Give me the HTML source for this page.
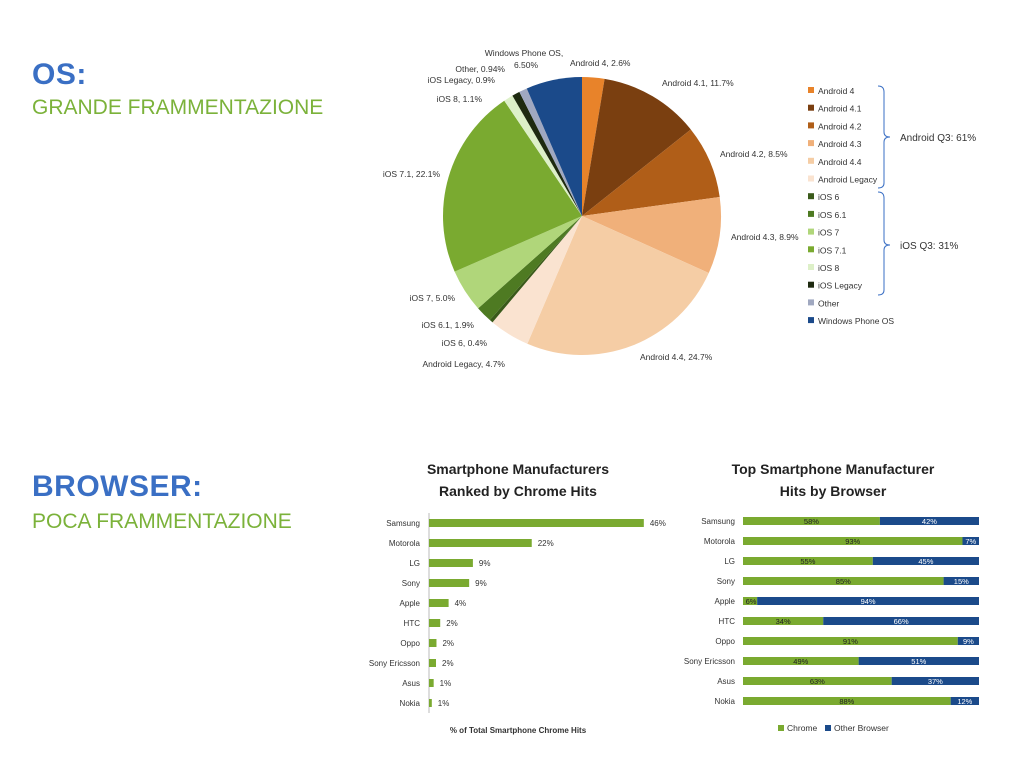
<!DOCTYPE html>
<html><head><meta charset="utf-8"><style>
body{margin:0;width:1024px;height:768px;background:#fff;overflow:hidden;position:relative;font-family:"Liberation Sans",sans-serif}
.h{position:absolute;left:32px;font-weight:bold;color:#3a6fc4;font-size:30px;letter-spacing:0.5px}
.s{position:absolute;left:32px;color:#7bb23a;font-size:21px}
svg{position:absolute;left:0;top:0}
svg text{font-family:"Liberation Sans",sans-serif}
</style></head><body>
<div class="h" style="top:58px">OS:</div>
<div class="s" style="top:96px">GRANDE FRAMMENTAZIONE</div>
<div class="h" style="top:470px">BROWSER:</div>
<div class="s" style="top:510px">POCA FRAMMENTAZIONE</div>
<svg id="chart" width="1024" height="768"></svg>
<script>
const osLabels=["Android 4","Android 4.1","Android 4.2","Android 4.3","Android 4.4","Android Legacy","iOS 6","iOS 6.1","iOS 7","iOS 7.1","iOS 8","iOS Legacy","Other","Windows Phone OS"];
const osValues=[2.6,11.7,8.5,8.9,24.7,4.7,0.4,1.9,5.0,22.1,1.1,0.9,0.94,6.5];
const osColors=["#e8832a","#7a3f10","#b05e18","#f0b07a","#f5cda5","#fae3d0","#3a5a1a","#4e7a22","#b0d67a","#7aaa30","#ddf0c8","#1e2a10","#a0a8c0","#1b4a8a"];
const osTexts=["Android 4, 2.6%","Android 4.1, 11.7%","Android 4.2, 8.5%","Android 4.3, 8.9%","Android 4.4, 24.7%","Android Legacy, 4.7%","iOS 6, 0.4%","iOS 6.1, 1.9%","iOS 7, 5.0%","iOS 7.1, 22.1%","iOS 8, 1.1%","iOS Legacy, 0.9%","Other, 0.94%","Windows Phone OS,"];
const mfr=["Samsung","Motorola","LG","Sony","Apple","HTC","Oppo","Sony Ericsson","Asus","Nokia"];
const chromeShare=[46,22,9.4,8.6,4.2,2.4,1.6,1.5,1,0.6];
const shareLabels=["46%","22%","9%","9%","4%","2%","2%","2%","1%","1%"];
const chromePct=[58,93,55,85,6,34,91,49,63,88];
const otherPct=[42,7,45,15,94,66,9,51,37,12];
const NS="http://www.w3.org/2000/svg";
const svg=document.getElementById('chart');
function mk(t,a,txt){const e=document.createElementNS(NS,t);for(const k in a)e.setAttribute(k,a[k]);if(txt!==undefined)e.textContent=txt;svg.appendChild(e);return e;}
// pie
const cx=582,cy=216,r=139;
const tot=osValues.reduce((a,b)=>a+b,0);
let ang=0;
const labelPos=[[570,66,'start'],[662,86,'start'],[720,157,'start'],[731,240,'start'],[640,360,'start'],[505,367,'end'],[487,346,'end'],[474,328,'end'],[455,301,'end'],[440,177,'end'],[482,102,'end'],[495,83,'end'],[505,72,'end'],[524,56,'middle']];
osValues.forEach((v,i)=>{
  const a0=ang/tot*2*Math.PI, a1=(ang+v)/tot*2*Math.PI; ang+=v;
  const x0=cx+r*Math.sin(a0),y0=cy-r*Math.cos(a0),x1=cx+r*Math.sin(a1),y1=cy-r*Math.cos(a1);
  const p=mk('path',{d:`M${cx},${cy}L${x0},${y0}A${r},${r} 0 ${a1-a0>Math.PI?1:0} 1 ${x1},${y1}Z`,fill:osColors[i]});
  
  
  const lp=labelPos[i];
  const t=mk('text',{x:lp[0],y:lp[1],'font-size':8.5,fill:'#333','text-anchor':lp[2]},osTexts[i]);
  
  
});
mk('text',{x:526,y:68,'font-size':8.5,fill:'#333','text-anchor':'middle'},'6.50%');
// legend
osLabels.forEach((l,i)=>{
  const y=91+i*17.7;
  const s=mk('rect',{x:808,y:y-4,width:6,height:6,fill:osColors[i]});
  
  
  const t=mk('text',{x:818,y:y+3,'font-size':8.5,fill:'#333'},l);
  
  
});
mk('path',{d:'M878,86 Q884,86 884,92 L884,132 Q884,137 890,137 Q884,137 884,142 L884,183 Q884,188 878,188',stroke:'#3a6fc4',fill:'none'});
mk('path',{d:'M878,192 Q884,192 884,198 L884,240 Q884,245 890,245 Q884,245 884,250 L884,290 Q884,295 878,295',stroke:'#3a6fc4',fill:'none'});
mk('text',{x:900,y:141,'font-size':10,fill:'#333'},'Android Q3: 61%');
mk('text',{x:900,y:249,'font-size':10,fill:'#333'},'iOS Q3: 31%');
// left bar chart
mk('text',{x:518,y:474,'font-size':14,'font-weight':'bold','text-anchor':'middle',fill:'#222'},'Smartphone Manufacturers');
mk('text',{x:518,y:496,'font-size':14,'font-weight':'bold','text-anchor':'middle',fill:'#222'},'Ranked by Chrome Hits');
const bx0=429,sc=4.67;
function rowY(i){return 523+i*20;}
mk('line',{x1:bx0,y1:513,x2:bx0,y2:713,stroke:'#bbb'});
mfr.forEach((m,i)=>{
  const y=rowY(i);
  const b=mk('rect',{x:bx0,y:y-4,width:chromeShare[i]*sc,height:8,fill:'#7aaa30'});
  
  
  mk('text',{x:420,y:y+3,'font-size':8,'text-anchor':'end',fill:'#333'},m);
  mk('text',{x:bx0+chromeShare[i]*sc+6,y:y+3,'font-size':8,fill:'#333'},shareLabels[i]);
});
mk('text',{x:518,y:733,'font-size':8,'font-weight':'bold','text-anchor':'middle',fill:'#333'},'% of Total Smartphone Chrome Hits');
// right stacked chart
mk('text',{x:833,y:474,'font-size':14,'font-weight':'bold','text-anchor':'middle',fill:'#222'},'Top Smartphone Manufacturer');
mk('text',{x:833,y:496,'font-size':14,'font-weight':'bold','text-anchor':'middle',fill:'#222'},'Hits by Browser');
const rx0=743,rw=236;
mfr.forEach((m,i)=>{
  const y=521+i*20;
  const w1=chromePct[i]/100*rw,w2=otherPct[i]/100*rw;
  const a=mk('rect',{x:rx0,y:y-4,width:w1,height:8,fill:'#7aaa30'});
  
  
  const b=mk('rect',{x:rx0+w1,y:y-4,width:w2,height:8,fill:'#1b4a8a'});
  
  
  mk('text',{x:735,y:y+3,'font-size':8,'text-anchor':'end',fill:'#333'},m);
  mk('text',{x:rx0+Math.max(w1/2,8),y:y+3,'font-size':7.5,'text-anchor':'middle',fill:'#222'},chromePct[i]+'%');
  mk('text',{x:rx0+w1+Math.max(w2/2,8),y:y+3,'font-size':7.5,'text-anchor':'middle',fill:'#fff'},otherPct[i]+'%');
});
mk('rect',{x:778,y:725,width:6,height:6,fill:'#7aaa30'});
mk('text',{x:787,y:731,'font-size':8.5,fill:'#333'},'Chrome');
mk('rect',{x:825,y:725,width:6,height:6,fill:'#1b4a8a'});
mk('text',{x:834,y:731,'font-size':8.5,fill:'#333'},'Other Browser');
</script>
</body></html>
